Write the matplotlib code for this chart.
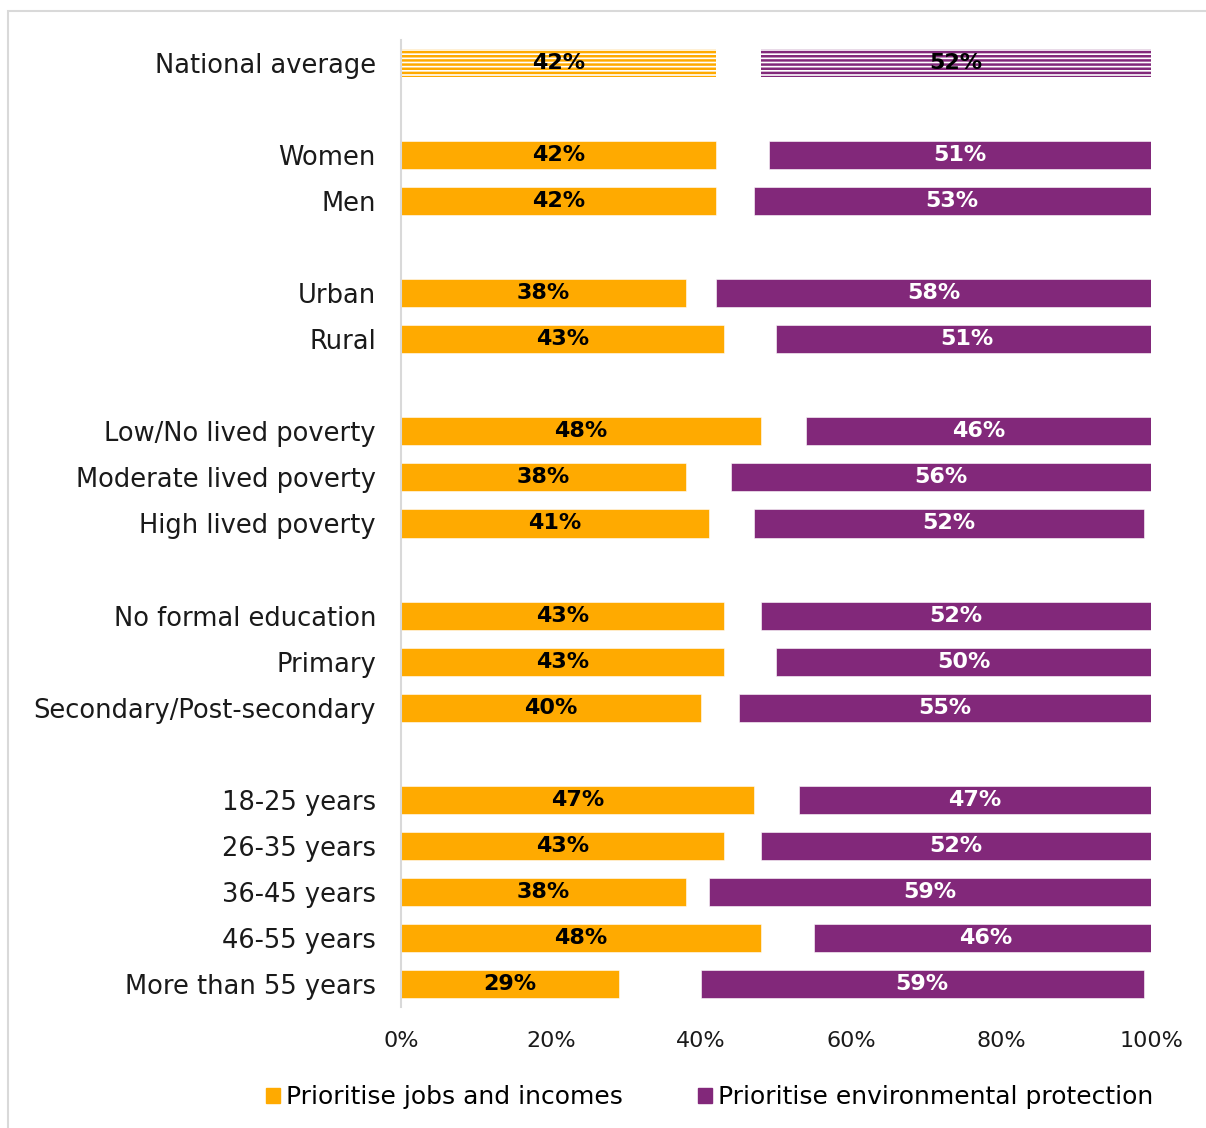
import matplotlib
matplotlib.use("Agg")
import matplotlib.pyplot as plt
from matplotlib.patches import Rectangle
import numpy as np

categories = ["National average", "Women", "Men", "Urban", "Rural",
              "Low/No lived poverty", "Moderate lived poverty", "High lived poverty",
              "No formal education", "Primary", "Secondary/Post-secondary",
              "18-25 years", "26-35 years", "36-45 years", "46-55 years",
              "More than 55 years"]
jobs = [42, 42, 42, 38, 43, 48, 38, 41, 43, 43, 40, 47, 43, 38, 48, 29]
neither = [6, 7, 5, 4, 7, 6, 6, 6, 5, 7, 5, 6, 5, 3, 7, 11]
env = [52, 51, 53, 58, 51, 46, 56, 52, 52, 50, 55, 47, 52, 59, 46, 59]
slots = [0, 2, 3, 5, 6, 8, 9, 10, 12, 13, 14, 16, 17, 18, 19, 20]
xticks = [0, 20, 40, 60, 80, 100]
legend_labels = ["Prioritise jobs and incomes", "Prioritise environmental protection"]

ORANGE = "#FFAA00"
PURPLE = "#82287A"
FONT = "DejaVu Sans"
plt.rcParams["font.family"] = FONT
plt.rcParams["hatch.linewidth"] = 1.8

W, H = 1206, 1128
fig = plt.figure(figsize=(W / 100, H / 100), dpi=100)
ax = fig.add_axes([401 / W, 1 - 1007 / H, 750 / W, 967 / H])

# border frame
fig.patches.append(Rectangle((8 / W, -0.1), 1.2, 1 - 11 / H + 0.1, transform=fig.transFigure,
                             fill=False, edgecolor="#D9D9D9", linewidth=1.5))

bh = 0.61
LBL = 16
for i, (s, j, n, e) in enumerate(zip(slots, jobs, neither, env)):
    left_env = j + n
    if i == 0:
        ax.barh(s, j, height=bh, color="white", edgecolor=ORANGE, hatch="----", linewidth=0)
        ax.barh(s, e, left=left_env, height=bh, color="white", edgecolor=PURPLE, hatch="----", linewidth=0)
        ax.text(j / 2, s, f"{j}%", ha="center", va="center", fontsize=LBL, fontweight="bold", color="black")
        ax.text(left_env + e / 2, s, f"{e}%", ha="center", va="center", fontsize=LBL, fontweight="bold", color="black")
    else:
        ax.barh(s, j, height=bh, color=ORANGE, edgecolor="white", linewidth=0.4)
        ax.barh(s, e, left=left_env, height=bh, color=PURPLE, edgecolor="white", linewidth=0.4)
        ax.text(j / 2, s, f"{j}%", ha="center", va="center", fontsize=LBL, fontweight="bold", color="black")
        ax.text(left_env + e / 2, s, f"{e}%", ha="center", va="center", fontsize=LBL, fontweight="bold", color="white")

ax.set_xlim(0, 100)
ax.set_ylim(20.5, -0.5)
ax.set_yticks(slots)
ax.set_yticklabels(categories, fontsize=18.5, color="#1a1a1a")
ax.set_xticks(xticks)
ax.set_xticklabels([f"{t}%" for t in xticks], fontsize=16, color="#1a1a1a")
ax.tick_params(axis="both", length=0)
ax.tick_params(axis="y", pad=18)
ax.tick_params(axis="x", pad=17)
for sp in ["top", "right", "bottom"]:
    ax.spines[sp].set_visible(False)
ax.spines["left"].set_color("#D9D9D9")
ax.spines["left"].set_linewidth(1.5)

handles = [Rectangle((0, 0), 1, 1, color=ORANGE), Rectangle((0, 0), 1, 1, color=PURPLE)]
fig.legend(handles, legend_labels, loc="center", bbox_to_anchor=(710 / W, 1 - 1097 / H),
           ncol=2, frameon=False, fontsize=18, handlelength=0.55, handleheight=0.55,
           handletextpad=0.25, columnspacing=3.0)

fig.savefig("out.png", dpi=100)
